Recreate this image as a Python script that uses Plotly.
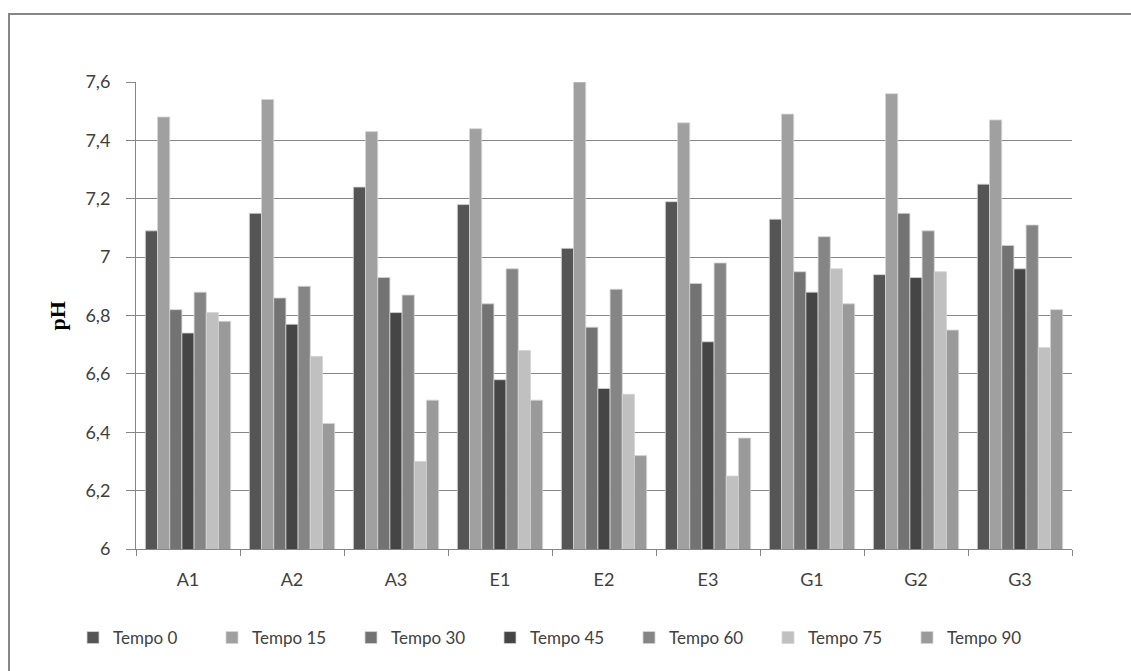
import plotly.graph_objects as go

categories = ["A1", "A2", "A3", "E1", "E2", "E3", "G1", "G2", "G3"]
series_names = ["Tempo 0", "Tempo 15", "Tempo 30", "Tempo 45", "Tempo 60", "Tempo 75", "Tempo 90"]

tempo_0 = [7.09, 7.15, 7.24, 7.18, 7.03, 7.19, 7.13, 6.94, 7.25]
tempo_15 = [7.48, 7.54, 7.43, 7.44, 7.60, 7.46, 7.49, 7.56, 7.47]
tempo_30 = [6.82, 6.86, 6.93, 6.84, 6.76, 6.91, 6.95, 7.15, 7.04]
tempo_45 = [6.74, 6.77, 6.81, 6.58, 6.55, 6.71, 6.88, 6.93, 6.96]
tempo_60 = [6.88, 6.90, 6.87, 6.96, 6.89, 6.98, 7.07, 7.09, 7.11]
tempo_75 = [6.81, 6.66, 6.30, 6.68, 6.53, 6.25, 6.96, 6.95, 6.69]
tempo_90 = [6.78, 6.43, 6.51, 6.51, 6.32, 6.38, 6.84, 6.75, 6.82]

series_values = [tempo_0, tempo_15, tempo_30, tempo_45, tempo_60, tempo_75, tempo_90]
colors = ["#555555", "#a0a0a0", "#737373", "#454545", "#858585", "#c0c0c0", "#9a9a9a"]

y_ticks = [6.0, 6.2, 6.4, 6.6, 6.8, 7.0, 7.2, 7.4, 7.6]

fig = go.Figure()
for name, vals, col in zip(series_names, series_values, colors):
    fig.add_trace(go.Bar(
        x=categories, y=vals, name=name,
        marker=dict(color=col, line=dict(color="#d4d4d4", width=0.8)),
    ))

W, H = 1131, 671
L, R, T, B = 136, 59, 82, 122
pw, ph = W - L - R, H - T - B

def px_x(p):
    return (p - L) / pw

def px_y(p):
    return (H - B - p) / ph

font_main = "Lato, 'Open Sans', sans-serif"

fig.update_layout(
    width=W, height=H,
    margin=dict(l=L, r=R, t=T, b=B, autoexpand=False),
    paper_bgcolor="white", plot_bgcolor="white",
    barmode="group", bargap=0.18, bargroupgap=0,
    separators=",.",
    font=dict(family=font_main, size=17, color="#404040"),
    showlegend=True,
    legend=dict(
        orientation="h", x=px_x(73), xanchor="left", y=px_y(638), yanchor="middle",
        font=dict(family=font_main, size=17, color="#404040"),
        entrywidth=94, entrywidthmode="pixels",
        traceorder="normal", itemclick=False,
    ),
    xaxis=dict(
        type="category", showgrid=False,
        showline=True, linecolor="#868686", linewidth=1,
        ticks="outside", tickson="boundaries", ticklen=6, tickcolor="#868686",
        ticklabelstandoff=14,
        tickfont=dict(family=font_main, size=18, color="#404040"),
    ),
    yaxis=dict(
        range=[6, 7.6], tickvals=y_ticks,
        showgrid=True, gridcolor="#868686", gridwidth=1,
        showline=True, linecolor="#868686", linewidth=1,
        ticks="outside", ticklen=9, tickcolor="#868686",
        ticklabelstandoff=12,
        tickfont=dict(family=font_main, size=18, color="#404040"),
        zeroline=False,
    ),
    annotations=[dict(
        text="<b>pH</b>", textangle=-90, xref="paper", yref="paper",
        x=px_x(42), y=px_y(316), showarrow=False,
        font=dict(family="'Liberation Serif', 'Times New Roman', serif", size=22, color="#000000"),
    )],
    shapes=[dict(
        type="rect", xref="paper", yref="paper",
        x0=px_x(9), x1=px_x(1145), y0=px_y(690), y1=px_y(14),
        line=dict(color="#868686", width=2), fillcolor="rgba(0,0,0,0)", layer="below",
    )],
)

fig.write_html("out.html")
